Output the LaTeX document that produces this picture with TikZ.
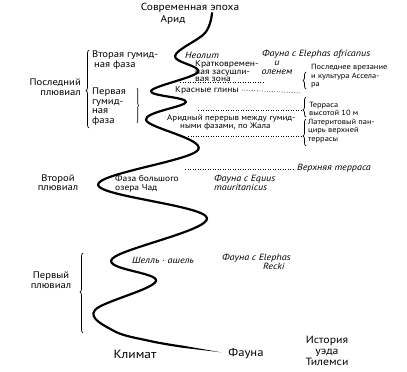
\documentclass[tikz,border=0pt]{standalone}
\usepackage{fontspec}
\setmainfont{PT Sans}[FakeStretch=1.12]
\usetikzlibrary{decorations.pathreplacing}
\begin{document}
\begin{tikzpicture}[x=1pt,y=-1pt,
  txt/.style={inner sep=0pt, align=left, font=\fontsize{8.5}{7.5}\selectfont},
  rtxt/.style={inner sep=0pt, align=left, font=\fontsize{7.5}{8.5}\selectfont},
  itxt/.style={inner sep=0pt, align=left, font=\fontsize{9}{9}\selectfont\itshape},
  side/.style={inner sep=0pt, font=\fontsize{9.5}{9.5}\selectfont},
  bigl/.style={inner sep=0pt, align=center, font=\fontsize{12}{9.5}\selectfont},
  dotl/.style={line width=0.6pt, dash pattern=on 0.7pt off 1.8pt},
  brc/.style={decorate, decoration={brace, amplitude=3pt, aspect=#1}, line width=0.7pt},
  brc/.default=0.5,
  curve/.style={line width=2.2pt, line cap=round, line join=round}]
\useasboundingbox (0,0) rectangle (407,372);

% climate curve
\draw[curve] plot[smooth, tension=0.6] coordinates {(212,13) (205,33) (175,56) (198,72) (151,91) (186,102) (146,120) (198,150) (98,185) (207,218) (112,259) (156,281) (95,310) (114,331) (150,341) (182,346.6)};
\fill (182.1,345.5) -- (221,352.3) -- (181.9,347.7) -- cycle;

% top
\node[side, font=\fontsize{10.2}{10}\selectfont] (sovr) at (190,8) {Современная эпоха};
\node[side, font=\fontsize{10}{10}\selectfont] (arid) at (173,20) {Арид};

% left labels
\node[side, align=left, anchor=west] (vtg) at (92,60) {Вторая гумид-\\\hspace*{2pt}ная фаза};
\node[side, align=left, anchor=west] (pgf) at (92,106.5) {Первая\\гумид-\\ная\\фаза};
\node[side, align=right, anchor=east] (posl) at (81,87) {Последний\\плювиал};
\node[side, align=center] (vtor) at (58,182.5) {Второй\\плювиал};
\node[side, align=center] (perv) at (51,280) {Первый\\плювиал};

% braces
\draw[brc=0.48] (89,128) -- (89,50);
\draw[decorate, decoration={brace, amplitude=1.5pt}, line width=0.6pt] (137,88) -- (137,123);
\draw[brc=0.51] (83,333) -- (83,253);
\draw[brc=0.5] (306,89) -- (306,72);
\draw[brc=0.35] (306,117) -- (306,97);
\draw[brc=0.37] (306,146) -- (306,119);

% middle annotations
\node[itxt, anchor=west] (neol) at (185,55) {Неолит};
\node[txt, anchor=west] (krat) at (195,71.5) {Кратковремен-\\ная засушли-\\вая зона};
\node[itxt, anchor=west] (fea) at (262,54) {Фауна с Elephas africanus};
\node[itxt, align=center] (olen) at (277,67.5) {и\\оленем};
\node[txt, anchor=west] (krgl) at (175,90) {Красные глины};
\node[txt, font=\fontsize{8}{8}\selectfont, anchor=west] (arpe) at (167,122) {Аридный перерыв между гумид-\\\hspace*{13pt}ными фазами, по Жала};
\node[txt, font=\fontsize{8.5}{9}\selectfont, anchor=west] (fbo) at (115,183.5) {Фаза большого\\озера Чад};
\node[itxt, anchor=west] (feq) at (214,182.5) {Фауна с Equus\\mauritanicus};
\node[itxt, anchor=west] (shel) at (132,260) {Шелль · ашель};
\node[itxt, anchor=west] (fer) at (222,262) {Фауна с Elephas\\\hspace*{41pt}Recki};

% right column
\node[rtxt, anchor=west] (vrez) at (311,76.5) {Последнее врезание\\и культура Ассела-\\ра};
\node[rtxt, anchor=west] (terr) at (309,109) {Терраса\\высотой 10 м};
\node[rtxt, anchor=west] (later) at (308,131) {Латеритовый пан-\\цирь верхней\\террасы};
\node[itxt, anchor=west] (verh) at (297,168) {Верхняя терраса};

% bottom labels
\node[bigl] (klim) at (135,354) {Климат};
\node[bigl, font=\fontsize{11.3}{9.5}\selectfont] (faun) at (246,354) {Фауна};
\node[bigl, font=\fontsize{10.5}{10.8}\selectfont] (ist) at (327,351) {История\\уэда\\Тилемси};

% dotted lines
\coordinate (d1a) at (180,82);
\coordinate (d1b) at (264,82);
\coordinate (d2b) at (301,93);
\coordinate (d3a) at (198,110);
\coordinate (d3b) at (302,110);
\coordinate (d4a) at (188,136);
\coordinate (d4b) at (302,136);
\coordinate (d5a) at (185,169);
\draw[dotl] (d1a) -- (d1b);
\draw[dotl] ([xshift=3pt]krgl.east) -- (d2b);
\draw[dotl] (d3a) -- (d3b);
\draw[dotl] (d4a) -- (d4b);
\draw[dotl] (d5a) -- ([xshift=-2pt]verh.west |- d5a);
\end{tikzpicture}
\end{document}
